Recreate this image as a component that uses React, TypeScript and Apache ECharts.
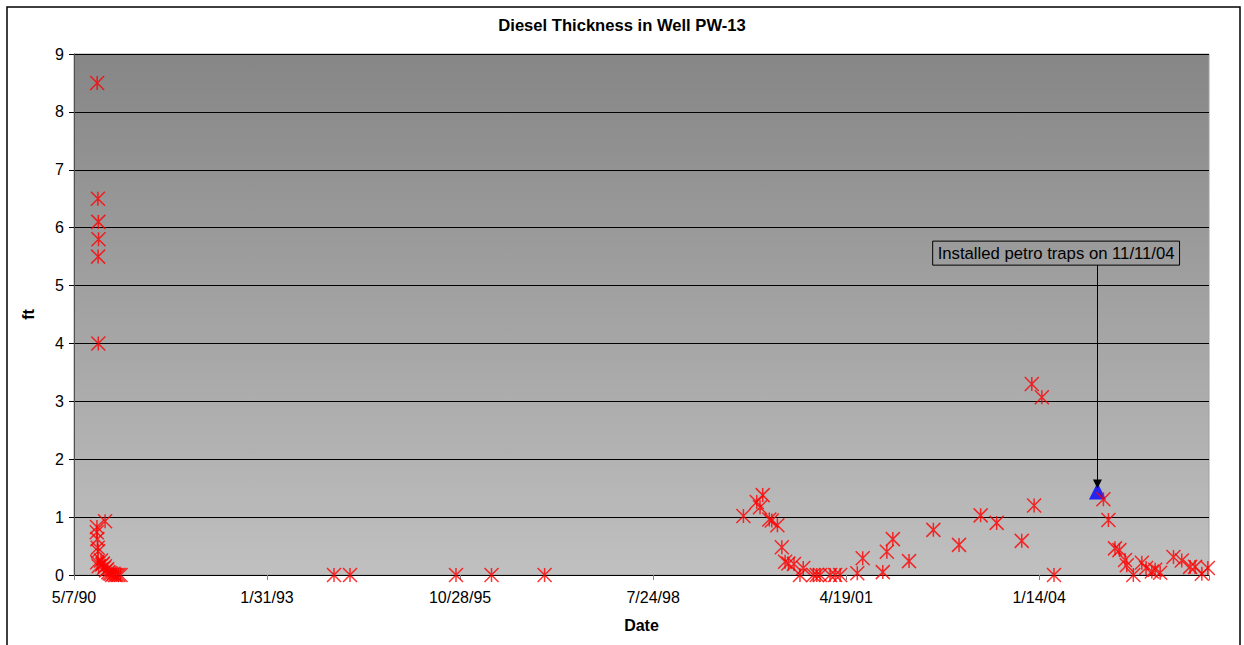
import React, { useEffect, useRef } from "react";
import * as echarts from "echarts";

// Excel-style date serial numbers (days since 12/30/1899)
const sampleDates = [
  33120, 33124, 33126, 33127, 33125, 33126,
  33119, 33118, 33121, 33123, 33125, 33120, 33128,
  33161, 33140, 33146, 33150, 33155, 33160, 33166, 33172, 33178, 33185,
  33192, 33198, 33205, 33212, 33220, 33230, 33241,
  34347, 34430, 34979, 35163, 35438,
  36468, 36537, 36568, 36554, 36602, 36615, 36644, 36667, 36684, 36701,
  36730, 36778, 36761, 36830, 36848, 36865, 36917, 36943, 36969,
  37058, 37086, 37190, 37211, 37242, 37326, 37452, 37585, 37697, 37780,
  37910, 37962, 37974, 38014, 38077,
  38333, 38359, 38393, 38416, 38445, 38454, 38488, 38532, 38554, 38584,
  38601, 38627, 38696, 38739, 38782, 38808, 38843, 38874,
];
const thicknessFt = [
  8.5, 6.5, 6.1, 5.8, 5.5, 4.0,
  0.83, 0.74, 0.62, 0.47, 0.41, 0.22, 0.15,
  0.93, 0.25, 0.18, 0.2, 0.12, 0.15, 0.08, 0.1, 0.05, 0.03,
  0.02, 0, 0.02, 0, 0, 0, 0,
  0, 0, 0, 0, 0,
  1.02, 1.26, 1.38, 1.17, 0.96, 0.94, 0.86, 0.48, 0.23, 0.2,
  0.19, 0.12, 0, 0, 0, 0, 0, 0, 0,
  0.03, 0.29, 0.05, 0.4, 0.62, 0.24, 0.78, 0.52, 1.03, 0.9,
  0.59, 3.3, 1.2, 3.07, 0,
  1.31, 0.95, 0.46, 0.43, 0.26, 0.17, 0, 0.21, 0.12, 0.06,
  0.09, 0.04, 0.31, 0.25, 0.14, 0.14, 0.02, 0.12,
];

// Petro trap installation (11/11/04)
const trapDate = 38302;
const trapThickness = 1.45;
const annotationText = "Installed petro traps on 11/11/04";
const annotationAnchor = [38088, 5.56];
const arrowStartLevel = 5.35;
const arrowEndLevel = 1.57;

const xMin = 33000;
const xMax = 38880;
const xStep = 1000;
const yMin = 0;
const yMax = 9;
const yStep = 1;

const EXCEL_EPOCH = Date.UTC(1899, 11, 30);
const DAY_MS = 86400000;
const serialToLabel = (serial: number) => {
  const d = new Date(EXCEL_EPOCH + serial * DAY_MS);
  const yy = String(d.getUTCFullYear() % 100).padStart(2, "0");
  return `${d.getUTCMonth() + 1}/${d.getUTCDate()}/${yy}`;
};

const FONT = "'Liberation Sans', Arial, Helvetica, sans-serif";
const STAR = "path://M0 0L10 10M10 0L0 10M5 0L5 10";

export default function App() {
  const ref = useRef<HTMLDivElement>(null);
  useEffect(() => {
    if (!ref.current) return;
    const chart = echarts.init(ref.current, undefined, { renderer: "svg" });
    const stars = sampleDates.map((d, i) => [d, thicknessFt[i]]);
    chart.setOption({
      animation: false,
      backgroundColor: "#ffffff",
      title: {
        text: "Diesel Thickness in Well PW-13",
        left: "center",
        top: 17,
        padding: 0,
        textStyle: { fontFamily: FONT, fontSize: 16.6, fontWeight: "bold", color: "#000" },
      },
      graphic: [
        {
          type: "rect",
          shape: { x: 7, y: 7, width: 1233, height: 700 },
          style: { fill: "none", stroke: "#000", lineWidth: 1.5 },
          silent: true,
        },
      ],
      grid: {
        left: 74,
        top: 54,
        right: 35,
        bottom: 70,
        show: true,
        borderColor: "#a0a0a0",
        borderWidth: 1,
        backgroundColor: new echarts.graphic.LinearGradient(0, 0, 0, 1, [
          { offset: 0, color: "#868686" },
          { offset: 1, color: "#c0c0c0" },
        ]),
      },
      xAxis: {
        type: "value",
        min: xMin,
        max: xMax,
        interval: xStep,
        name: "Date",
        nameLocation: "middle",
        nameGap: 42,
        nameTextStyle: { fontFamily: FONT, fontSize: 16, fontWeight: "bold", color: "#000" },
        axisLine: { show: true, lineStyle: { color: "#000", width: 1 } },
        axisTick: { show: true, length: 5, lineStyle: { color: "#808080" } },
        axisLabel: {
          margin: 14,
          fontFamily: FONT,
          fontSize: 16,
          color: "#000",
          formatter: (v: number) => ((v - xMin) % xStep === 0 ? serialToLabel(v) : ""),
        },
        splitLine: { show: false },
      },
      yAxis: {
        type: "value",
        min: yMin,
        max: yMax,
        interval: yStep,
        name: "ft",
        nameLocation: "middle",
        nameGap: 38,
        nameRotate: 90,
        nameTextStyle: { fontFamily: FONT, fontSize: 16, fontWeight: "bold", color: "#000" },
        axisLine: { show: true, lineStyle: { color: "#505050", width: 1 } },
        axisTick: { show: true, length: 5, lineStyle: { color: "#000" } },
        axisLabel: { margin: 10, fontFamily: FONT, fontSize: 16, color: "#000" },
        splitLine: { show: true, lineStyle: { color: "#000", width: 1 } },
      },
      series: [
        {
          type: "scatter",
          name: "traps",
          data: [[trapDate, trapThickness]],
          symbol: "triangle",
          symbolSize: 17,
          itemStyle: { color: "#0000ff" },
          z: 2,
          markLine: {
            silent: true,
            animation: false,
            symbol: ["none", "triangle"],
            symbolSize: 9,
            label: { show: false },
            lineStyle: { color: "#000", width: 1, type: "solid" },
            data: [[{ coord: [trapDate, arrowStartLevel] }, { coord: [trapDate, arrowEndLevel] }]],
          },
          markPoint: {
            silent: true,
            animation: false,
            data: [
              {
                coord: annotationAnchor,
                symbol: "rect",
                symbolSize: 1,
                itemStyle: { color: "rgba(0,0,0,0)" },
                label: {
                  show: true,
                  position: "inside",
                  formatter: annotationText,
                  fontFamily: FONT,
                  fontSize: 16.7,
                  color: "#000",
                  lineHeight: 18,
                  borderColor: "#000",
                  borderWidth: 1,
                  padding: [3, 5, 3, 5],
                },
              },
            ],
          },
        },
        {
          type: "scatter",
          name: "thickness",
          data: stars,
          symbol: STAR,
          symbolSize: 14,
          itemStyle: { color: "rgba(0,0,0,0)", borderColor: "#ff0000", borderWidth: 1.5 },
          z: 3,
        },
      ],
    });
    return () => chart.dispose();
  }, []);
  return (
    <div
      ref={ref}
      style={{ position: "absolute", left: 0, top: 0, width: 1244, height: 645 }}
    />
  );
}
